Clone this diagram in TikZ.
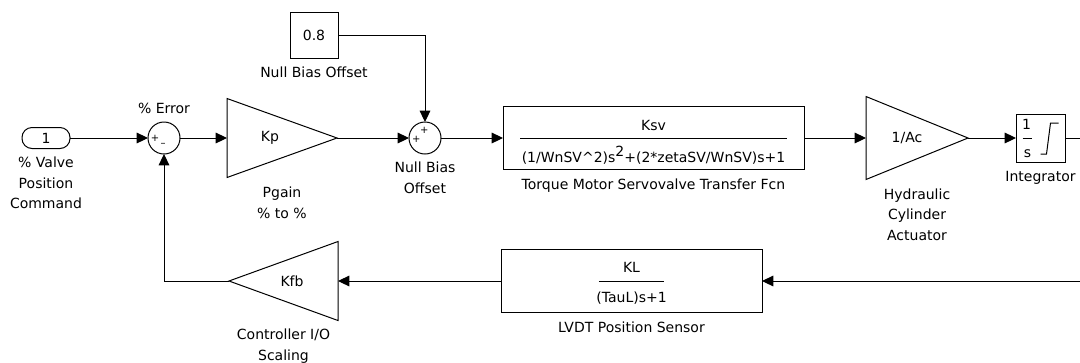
\documentclass[tikz,border=0pt]{standalone}
\usepackage{fontspec}
\setmainfont{DejaVu Sans}
\usepackage{tikz}
\usetikzlibrary{positioning,arrows.meta}
\tikzset{
  wire/.style={line width=0.75pt},
  arrow/.style={wire, -{Triangle[length=8.5pt,width=8pt]}},
  block/.style={draw, line width=0.75pt, inner sep=0pt, outer sep=0pt},
  inPort/.style={block, rounded corners=7.5pt, minimum width=36pt, minimum height=15.75pt},
  sumNode/.style={block, circle, minimum size=24pt},
  gainBox/.style={inner sep=0pt, outer sep=0pt},
  sign/.style={inner sep=0pt, font=\fontsize{7.5}{7.5}\selectfont},
  txt/.style={inner sep=0pt},
  lbl/.style={inner sep=0pt, align=center}
}

\begin{document}
\begin{tikzpicture}[x=0.75pt, y=-0.75pt, font=\fontsize{10.5}{15.5}\selectfont]
  \useasboundingbox (0,0) rectangle (1080,362);

  % forward path
  \node[inPort] (inport) at (46,138) {1};
  \node[sumNode, right=58.5pt of inport] (sum1) {};
  \node[gainBox, right=35.25pt of sum1, minimum width=82.5pt, minimum height=59.25pt] (kp) {};
  \node[sumNode, right=54pt of kp] (sum2) {};
  \node[block, right=46.5pt of sum2, minimum width=225.75pt, minimum height=47.25pt] (tf) {};
  \node[gainBox, right=46.5pt of tf, minimum width=76.5pt, minimum height=62.25pt] (ac) {};
  \node[block, right=36pt of ac, minimum width=36.75pt, minimum height=36pt] (integ) {};
  \node[block, minimum width=36pt, minimum height=34.5pt] (bias) at (314,35) {0.8};

  % feedback path
  \node[block, below=60pt of tf, xshift=-16.5pt, minimum width=195.75pt, minimum height=47.25pt] (lvdt) {};
  \node[gainBox, left=122.25pt of lvdt, minimum width=81.75pt, minimum height=59.25pt] (kfb) {};
  \coordinate[right=12pt of integ] (outEdge);
  \coordinate[right=240pt of lvdt] (fbEdge);

  % gains
  \draw[wire] (kp.north west) -- (kp.east) -- (kp.south west) -- cycle;
  \node[txt] at ([xshift=-9pt]kp.center) {Kp};
  \draw[wire] (ac.north west) -- (ac.east) -- (ac.south west) -- cycle;
  \node[txt] at ([xshift=-7.5pt]ac.center) {1/Ac};
  \draw[wire] (kfb.north east) -- (kfb.west) -- (kfb.south east) -- cycle;
  \node[txt] at ([xshift=6.4pt]kfb.center) {Kfb};

  % sum signs
  \node[sign] at ([xshift=-6.75pt]sum1.center) {+};
  \node[sign] at ([xshift=-0.75pt,yshift=-5.5pt]sum1.center) {--};
  \node[sign] at ([xshift=-6.5pt,yshift=-0.75pt]sum2.center) {+};
  \node[sign] at ([xshift=-0.5pt,yshift=6pt]sum2.center) {+};

  % transfer functions
  \node[txt] at ([yshift=9.5pt]tf.center) {Ksv};
  \draw[wire] ([xshift=-100pt]tf.center) -- ([xshift=100pt]tf.center);
  \node[txt] at ([yshift=-13pt]tf.center) {(1/WnSV\^{}2)s\raisebox{0.4em}{2}+(2*zetaSV/WnSV)s+1};
  \node[txt] at ([yshift=10pt]lvdt.center) {KL};
  \draw[wire] ([xshift=-24.5pt]lvdt.center) -- ([xshift=24.5pt]lvdt.center);
  \node[txt] at ([yshift=-13pt]lvdt.center) {(TauL)s+1};

  % integrator icon
  \node[txt] at ([xshift=-10.5pt,yshift=10.5pt]integ.center) {1};
  \draw[wire] ([xshift=-13.5pt]integ.center) -- ([xshift=-6.75pt]integ.center);
  \node[txt] at ([xshift=-9.75pt,yshift=-12pt]integ.center) {s};
  \draw[wire] ([yshift=-12pt]integ.center) -- ([xshift=4.5pt,yshift=-12pt]integ.center)
    -- ([xshift=7.5pt,yshift=11.25pt]integ.center) -- ([xshift=13.5pt,yshift=11.25pt]integ.center);

  % labels
  \node[lbl, below=6pt of inport] (inportLbl) {\% Valve\\Position\\Command};
  \node[lbl, above=6pt of sum1] (errLbl) {\% Error};
  \node[lbl, below=7pt of kp] (pgainLbl) {Pgain\\\% to \%};
  \node[lbl, below=6.5pt of bias] (biasLbl) {Null Bias Offset};
  \node[lbl, below=6pt of sum2] (sum2Lbl) {Null Bias\\Offset};
  \node[lbl, below=6.5pt of tf] (tfLbl) {Torque Motor Servovalve Transfer Fcn};
  \node[lbl, below=6.5pt of ac] (acLbl) {Hydraulic\\Cylinder\\Actuator};
  \node[lbl, below=6.5pt of integ] (integLbl) {Integrator};
  \node[lbl, below=6.5pt of lvdt] (lvdtLbl) {LVDT Position Sensor};
  \node[lbl, below=6pt of kfb] (kfbLbl) {Controller I/O\\Scaling};

  % connectors
  \draw[arrow] (inport) -- (sum1);
  \draw[arrow] (sum1) -- (kp.west);
  \draw[arrow] (kp.east) -- (sum2);
  \draw[arrow] (bias) -| (sum2);
  \draw[arrow] (sum2) -- (tf);
  \draw[arrow] (tf) -- (ac.west);
  \draw[arrow] (ac.east) -- (integ);
  \draw[wire] (integ) -- (outEdge);
  \draw[arrow] (fbEdge) -- (lvdt);
  \draw[arrow] (lvdt) -- (kfb.east);
  \draw[arrow] (kfb.west) -| (sum1);
\end{tikzpicture}
\end{document}
